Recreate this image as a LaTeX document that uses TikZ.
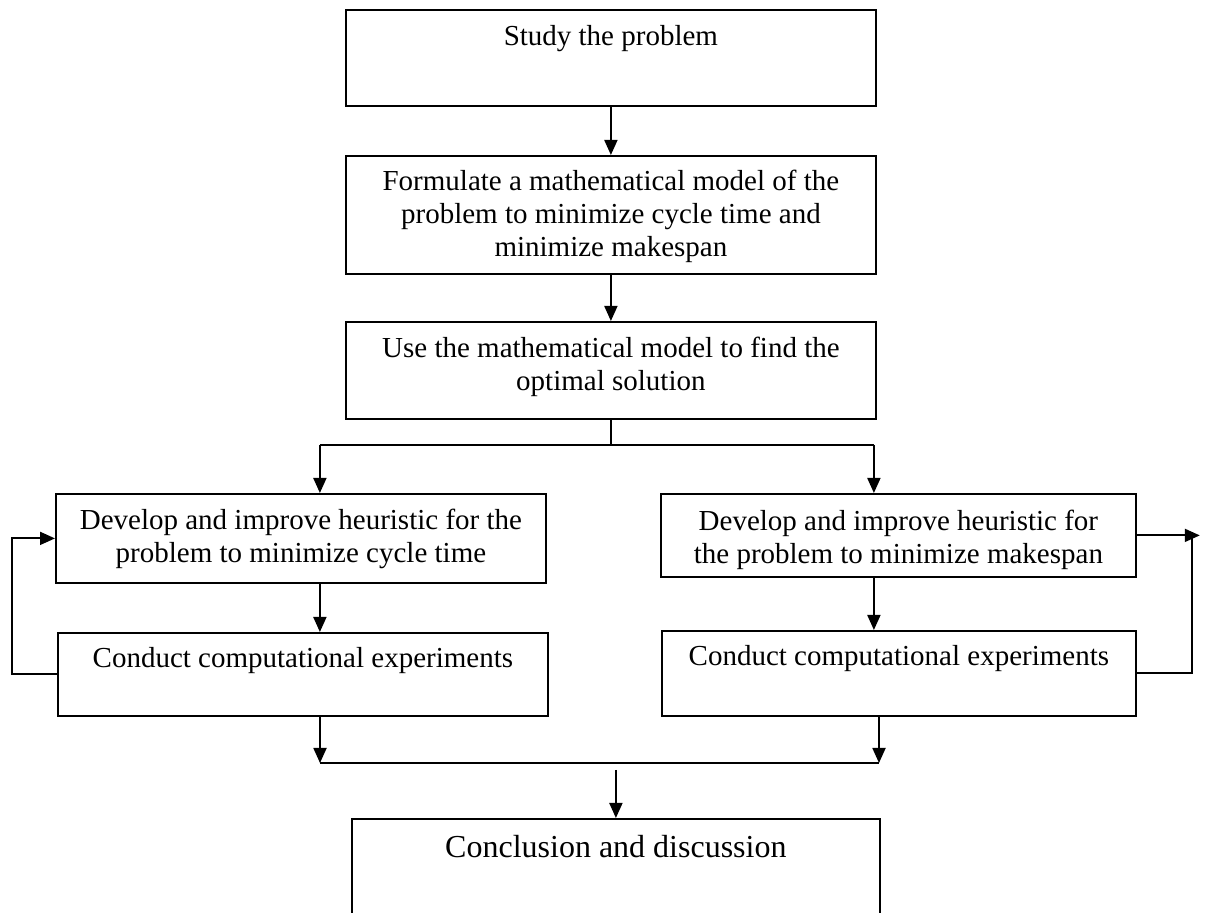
\documentclass[tikz,border=0pt]{standalone}
\usepackage{fontspec}
\setmainfont{Liberation Serif}
\usetikzlibrary{arrows.meta}

% #1 width, #2 height, #3 depth of first baseline below the top edge, #4 text
\newcommand{\boxtext}[4]{\parbox[t][#2][t]{#1}{\centering\rule{0pt}{#3}#4}}

\tikzset{
  stepbox/.style={draw, line width=0.9pt, inner sep=0pt, anchor=north west,
    font=\fontsize{14.5pt}{16.5pt}\selectfont},
  flow/.style={line width=0.9pt, -{Triangle[length=7.5pt,width=6.5pt]}},
  link/.style={line width=0.9pt}
}

\begin{document}
\begin{tikzpicture}[x=0.5pt, y=-0.5pt]
  \useasboundingbox (0,0) rectangle (1205,913);

  % main column
  \node[stepbox] (b1) at (345,9)
    {\boxtext{265pt}{48pt}{17.75pt}{Study the problem}};
  \node[stepbox] (b2) at (345,155)
    {\boxtext{265pt}{59pt}{17.25pt}{Formulate a mathematical model of the\\
      problem to minimize cycle time and\\ minimize makespan}};
  \node[stepbox] (b3) at (345,321)
    {\boxtext{265pt}{48.5pt}{17.75pt}{Use the mathematical model to find the\\
      optimal solution}};

  % left branch: cycle time
  \node[stepbox] (b4) at (55,493)
    {\boxtext{245pt}{44.5pt}{18pt}{Develop and improve heuristic for the\\
      problem to minimize cycle time}};
  \node[stepbox] (b5) at (57,632)
    {\boxtext{245pt}{41.5pt}{17.25pt}{Conduct computational experiments}};

  % right branch: makespan
  \node[stepbox] (b6) at (660,493)
    {\boxtext{237.5pt}{41.5pt}{18.5pt}{Develop and improve heuristic for\\
      the problem to minimize makespan}};
  \node[stepbox] (b7) at (661,630)
    {\boxtext{237pt}{42.5pt}{17.5pt}{Conduct computational experiments}};

  % final step
  \node[stepbox, font=\fontsize{16pt}{18.4pt}\selectfont] (b8) at (351,818)
    {\boxtext{264pt}{60pt}{19.5pt}{Conclusion and discussion}};

  % main column connectors
  \draw[flow] (b1.south) -- (b2.north);
  \draw[flow] (b2.south) -- (b3.north);

  % split into the two branches
  \path (b3.south) ++(0,25) coordinate (sp);
  \path (sp) ++(-291,0) coordinate (sl);
  \path (sp) ++(263,0) coordinate (sr);
  \draw[link] (b3.south) -- (sp);
  \draw[link] (sl) -- (sr);
  \draw[flow] (sl) -- (sl |- b4.north);
  \draw[flow] (sr) -- (sr |- b6.north);

  % within each branch
  \draw[flow] (b4.south -| sl) -- (b5.north -| sl);
  \draw[flow] (b6.south -| sr) -- (b7.north -| sr);

  % feedback loops
  \draw[flow] (b5.west) -- ++(-45,0) |- (b4.west);
  \path (b6.east) ++(63,0) coordinate (rtip);
  \draw[flow] (b6.east) -- (rtip);
  \draw[link] (b7.east) -| ([xshift=-4pt]rtip);

  % merge into the conclusion
  \coordinate (ml) at (320,763);
  \coordinate (mr) at (879,763);
  \path (b8.north) ++(0,-48) coordinate (mc);
  \draw[flow] (b5.south -| ml) -- (ml);
  \draw[flow] (b7.south -| mr) -- (mr);
  \draw[link] (ml) -- (mr);
  \draw[flow] (mc) -- (b8.north);
\end{tikzpicture}
\end{document}
